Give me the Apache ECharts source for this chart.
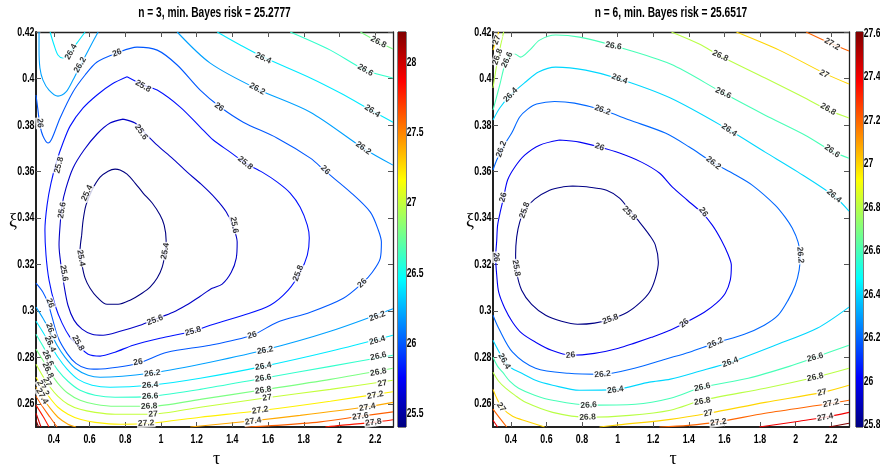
<!DOCTYPE html>
<html>
<head>
<meta charset="utf-8">
<script src="https://cdn.jsdelivr.net/npm/echarts@6.0.0/dist/echarts.min.js"></script>
<style>
  html, body { margin: 0; background: #fff; }
  #chart { width: 880px; height: 472px; }
</style>
</head>
<body>
<div id="chart"></div>
<script>
// axis ticks
const tauTicks = [0.4, 0.6, 0.8, 1, 1.2, 1.4, 1.6, 1.8, 2, 2.2];
const xiTicks = [0.26, 0.28, 0.3, 0.32, 0.34, 0.36, 0.38, 0.4, 0.42];
const leftBarTicks = [25.5, 26, 26.5, 27, 27.5, 28];
const rightBarTicks = [25.8, 26, 26.2, 26.4, 26.6, 26.8, 27, 27.2, 27.4, 27.6];
const leftRange = [25.405, 28.216];
const rightRange = [25.79, 27.606];
const titles = ['n = 3, min. Bayes risk = 25.2777', 'n = 6, min. Bayes risk = 25.6517'];

// ---- n = 3 contours, [tau, xi] ----
const left254 = [[0.556,0.3326],[0.547,0.3261],[0.558,0.3197],[0.575,0.3141],[0.603,0.3097],[0.642,0.3059],[0.698,0.3028],[0.760,0.3028],[0.827,0.3046],[0.894,0.3076],[0.939,0.3102],[0.979,0.3141],[1.007,0.3188],[1.024,0.3253],[1.029,0.3304],[1.018,0.3369],[0.995,0.3412],[0.951,0.3464],[0.900,0.3507],[0.855,0.3550],[0.810,0.3588],[0.771,0.3606],[0.743,0.3610],[0.704,0.3601],[0.659,0.3575],[0.614,0.3520],[0.580,0.3455],[0.564,0.3390],[0.556,0.3326]];
const left256 = [[0.788,0.3825],[0.855,0.3808],[0.911,0.3765],[0.979,0.3713],[1.063,0.3657],[1.147,0.3597],[1.225,0.3545],[1.304,0.3485],[1.366,0.3425],[1.405,0.3360],[1.427,0.3296],[1.422,0.3227],[1.394,0.3166],[1.343,0.3115],[1.287,0.3097],[1.220,0.3063],[1.141,0.3024],[1.068,0.2994],[0.967,0.2964],[0.883,0.2938],[0.771,0.2912],[0.676,0.2895],[0.614,0.2899],[0.558,0.2921],[0.513,0.2960],[0.479,0.3024],[0.457,0.3110],[0.440,0.3196],[0.429,0.3283],[0.435,0.3369],[0.446,0.3455],[0.468,0.3528],[0.507,0.3614],[0.569,0.3692],[0.642,0.3761],[0.715,0.3808],[0.788,0.3825]];
const left258 = [[0.810,0.4007],[0.900,0.3972],[0.979,0.3950],[1.108,0.3877],[1.220,0.3791],[1.293,0.3735],[1.388,0.3683],[1.472,0.3636],[1.567,0.3597],[1.652,0.3554],[1.724,0.3507],[1.780,0.3446],[1.820,0.3369],[1.831,0.3313],[1.820,0.3240],[1.780,0.3166],[1.713,0.3089],[1.612,0.3024],[1.461,0.2981],[1.276,0.2938],[1.180,0.2912],[0.995,0.2882],[0.844,0.2852],[0.743,0.2822],[0.659,0.2805],[0.592,0.2813],[0.536,0.2852],[0.491,0.2886],[0.446,0.2947],[0.407,0.3024],[0.373,0.3132],[0.356,0.3240],[0.350,0.3347],[0.362,0.3455],[0.384,0.3550],[0.418,0.3649],[0.451,0.3722],[0.491,0.3795],[0.564,0.3873],[0.642,0.3929],[0.726,0.3976],[0.810,0.4007]];
const left260 = [[0.300,0.3929],[0.311,0.3864],[0.322,0.3799],[0.339,0.3752],[0.367,0.3722],[0.390,0.3743],[0.435,0.3830],[0.507,0.3942],[0.575,0.4015],[0.642,0.4071],[0.754,0.4110],[0.866,0.4135],[0.979,0.4122],[1.091,0.4058],[1.220,0.3950],[1.332,0.3877],[1.461,0.3812],[1.652,0.3743],[1.837,0.3657],[1.921,0.3601],[2.061,0.3511],[2.173,0.3425],[2.218,0.3347],[2.235,0.3296],[2.229,0.3227],[2.184,0.3166],[2.128,0.3119],[2.022,0.3054],[1.837,0.2994],[1.652,0.2951],[1.511,0.2895],[1.276,0.2852],[1.035,0.2822],[0.872,0.2774],[0.754,0.2757],[0.642,0.2749],[0.580,0.2753],[0.524,0.2774],[0.474,0.2817],[0.423,0.2886],[0.390,0.2973],[0.367,0.3033],[0.339,0.3080],[0.300,0.3119]];
const left262a = [[0.317,0.42],[0.317,0.4122],[0.322,0.4045],[0.339,0.3993],[0.373,0.3950],[0.423,0.3924],[0.468,0.3942],[0.507,0.3993],[0.547,0.4054],[0.597,0.4127],[0.648,0.42]];
const left262b = [[1.091,0.42],[1.276,0.4066],[1.539,0.3955],[1.837,0.3855],[2.134,0.3700],[2.3,0.3627]];
const left262c = [[0.300,0.3016],[0.339,0.2968],[0.379,0.2912],[0.418,0.2852],[0.463,0.2800],[0.519,0.2753],[0.592,0.2723],[0.659,0.2714],[0.939,0.2731],[1.220,0.2770],[1.573,0.2830],[1.949,0.2912],[2.3,0.3009]];
const left264a = [[0.379,0.42],[0.401,0.4144],[0.423,0.4101],[0.451,0.4088],[0.491,0.4114],[0.530,0.4153],[0.575,0.42]];
const left264b = [[1.315,0.42],[1.444,0.4144],[1.573,0.4092],[1.837,0.4002],[2.005,0.3937],[2.184,0.3860],[2.3,0.3812]];
const left264c = [[0.300,0.2955],[0.339,0.2908],[0.379,0.2856],[0.423,0.2800],[0.474,0.2749],[0.536,0.2705],[0.614,0.2680],[0.715,0.2671],[0.939,0.2680],[1.220,0.2710],[1.573,0.2761],[1.949,0.2826],[2.3,0.2895]];
const left266a = [[1.724,0.42],[1.949,0.4122],[2.145,0.4036],[2.3,0.4002]];
const left266b = [[0.300,0.2899],[0.339,0.2848],[0.379,0.2796],[0.423,0.2744],[0.479,0.2697],[0.547,0.2658],[0.631,0.2637],[0.743,0.2628],[0.939,0.2632],[1.220,0.2662],[1.573,0.2710],[1.949,0.2761],[2.3,0.2809]];
const left268a = [[2.117,0.42],[2.218,0.4157],[2.3,0.4127]];
const left268b = [[0.300,0.2835],[0.339,0.2787],[0.379,0.2736],[0.423,0.2688],[0.479,0.2645],[0.547,0.2615],[0.631,0.2598],[0.743,0.2589],[0.939,0.2589],[1.220,0.2619],[1.573,0.2660],[1.949,0.2705],[2.3,0.2753]];
const left270 = [[0.300,0.2770],[0.339,0.2718],[0.379,0.2671],[0.423,0.2632],[0.479,0.2598],[0.547,0.2576],[0.631,0.2563],[0.743,0.2555],[0.939,0.2555],[1.220,0.2585],[1.573,0.2624],[1.949,0.2662],[2.3,0.2701]];
const left272 = [[0.300,0.2714],[0.339,0.2667],[0.379,0.2624],[0.423,0.2585],[0.479,0.2555],[0.547,0.2533],[0.631,0.2520],[0.771,0.2512],[0.939,0.2516],[1.220,0.2542],[1.573,0.2572],[1.949,0.2611],[2.3,0.2652]];
const left274a = [[0.300,0.2671],[0.339,0.2624],[0.379,0.2581],[0.423,0.2542],[0.479,0.2512],[0.524,0.25]];
const left274b = [[1.164,0.25],[1.517,0.2527],[1.780,0.2550],[2.156,0.2587],[2.3,0.2606]];
const left276a = [[0.300,0.2632],[0.339,0.2585],[0.379,0.2542],[0.418,0.25]];
const left276b = [[1.472,0.25],[1.652,0.2507],[1.893,0.2522],[2.117,0.2546],[2.3,0.2565]];
const left278a = [[0.300,0.2594],[0.339,0.2546],[0.373,0.25]];
const left278b = [[1.921,0.25],[2.005,0.2507],[2.190,0.2520],[2.3,0.2531]];
const left280 = [[0.300,0.2559],[0.328,0.25]];
const left282 = [[0.300,0.2529],[0.314,0.25]];

const leftLines = [
  [25.4, left254], [25.6, left256], [25.8, left258], [26, left260],
  [26.2, left262a], [26.2, left262b], [26.2, left262c],
  [26.4, left264a], [26.4, left264b], [26.4, left264c],
  [26.6, left266a], [26.6, left266b], [26.8, left268a], [26.8, left268b],
  [27, left270], [27.2, left272], [27.4, left274a], [27.4, left274b],
  [27.6, left276a], [27.6, left276b], [27.8, left278a], [27.8, left278b],
  [28, left280], [28.2, left282]
];

// [tau, xi, text, angle]
const leftLabels = [
  [0.496,0.4114,'26.4',60],[0.547,0.4058,'26.2',60],[0.754,0.4110,'26',20],[0.322,0.3808,'26',-85],
  [0.900,0.3967,'25.8',-30],[0.889,0.3769,'25.6',-55],[0.429,0.3627,'25.8',75],[0.446,0.3433,'25.6',80],
  [0.586,0.3507,'25.4',65],[1.573,0.4088,'26.4',-25],[1.539,0.3955,'26.2',-28],[1.326,0.3877,'26',-35],
  [1.472,0.3636,'25.8',-40],[1.921,0.3606,'26',-45],[2.134,0.3700,'26.2',-35],[2.184,0.3860,'26.4',-33],
  [2.145,0.4036,'26.6',-30],[2.218,0.4157,'26.8',-28],[0.552,0.3227,'25.4',-80],[1.024,0.3257,'25.4',80],
  [0.457,0.3162,'25.6',-80],[0.967,0.2960,'25.6',20],[1.410,0.3369,'25.6',-80],[1.769,0.3162,'25.8',70],
  [1.180,0.2912,'25.8',15],[0.536,0.2861,'25.8',-60],[0.379,0.3033,'26',-70],[0.872,0.2779,'26',10],
  [1.511,0.2895,'26',15],[2.128,0.3119,'26',45],[0.384,0.2912,'26.2',-70],[0.951,0.2731,'26.2',5],
  [1.584,0.2830,'26.2',10],[2.212,0.2977,'26.2',20],[0.379,0.2857,'26.4',-65],[0.939,0.2680,'26.4',3],
  [1.573,0.2761,'26.4',10],[2.212,0.2873,'26.4',15],[0.367,0.2796,'26.6',-65],[0.939,0.2632,'26.6',3],
  [1.573,0.2710,'26.6',8],[2.218,0.2805,'26.6',12],[0.367,0.2744,'26.8',-65],[0.934,0.2589,'26.8',3],
  [1.573,0.2658,'26.8',8],[2.218,0.2736,'26.8',10],[0.362,0.2693,'27',-60],[0.956,0.2555,'27',3],
  [1.595,0.2626,'27',8],[2.240,0.2688,'27',10],[0.339,0.2667,'27.2',-60],[0.917,0.2516,'27.2',3],
  [1.556,0.2572,'27.2',8],[2.201,0.2637,'27.2',10],[0.334,0.2632,'27.4',-60],[1.517,0.2525,'27.4',8],
  [2.156,0.2585,'27.4',10],[2.117,0.2546,'27.6',8],[2.190,0.2520,'27.8',8]
];

// ---- n = 6 contours ----
const right258 = [[0.747,0.3537],[0.842,0.3532],[0.938,0.3519],[1.011,0.3485],[1.067,0.3433],[1.123,0.3382],[1.179,0.3326],[1.212,0.3283],[1.229,0.3209],[1.212,0.3140],[1.179,0.3080],[1.123,0.3033],[1.055,0.2994],[0.960,0.2964],[0.870,0.2947],[0.775,0.2942],[0.685,0.2955],[0.596,0.2981],[0.517,0.3028],[0.461,0.3089],[0.433,0.3166],[0.427,0.3240],[0.433,0.3317],[0.450,0.3382],[0.478,0.3433],[0.534,0.3481],[0.618,0.3519],[0.685,0.3532],[0.747,0.3537]];
const right260 = [[0.674,0.3735],[0.786,0.3726],[0.898,0.3705],[1.011,0.3679],[1.134,0.3640],[1.235,0.3593],[1.308,0.3532],[1.392,0.3476],[1.476,0.3420],[1.532,0.3369],[1.583,0.3304],[1.622,0.3240],[1.639,0.3196],[1.633,0.3132],[1.605,0.3076],[1.555,0.3033],[1.487,0.2994],[1.375,0.2947],[1.280,0.2912],[1.190,0.2886],[1.095,0.2861],[1.005,0.2839],[0.870,0.2817],[0.736,0.2809],[0.629,0.2830],[0.539,0.2865],[0.461,0.2904],[0.410,0.2951],[0.366,0.3011],[0.332,0.3080],[0.321,0.3153],[0.315,0.3231],[0.321,0.3304],[0.326,0.3369],[0.343,0.3433],[0.360,0.3489],[0.382,0.3563],[0.422,0.3618],[0.478,0.3670],[0.562,0.3713],[0.674,0.3735]];
const right262 = [[0.300,0.3606],[0.321,0.3649],[0.349,0.3692],[0.377,0.3731],[0.405,0.3765],[0.450,0.3834],[0.495,0.3868],[0.545,0.3890],[0.646,0.3901],[0.758,0.3894],[0.915,0.3864],[1.067,0.3821],[1.268,0.3765],[1.403,0.3705],[1.532,0.3640],[1.655,0.3588],[1.756,0.3541],[1.885,0.3455],[1.941,0.3403],[1.981,0.3356],[2.014,0.3296],[2.026,0.3240],[2.020,0.3175],[1.998,0.3110],[1.958,0.3046],[1.902,0.2981],[1.824,0.2938],[1.712,0.2899],[1.549,0.2861],[1.403,0.2822],[1.268,0.2792],[1.095,0.2753],[0.915,0.2727],[0.725,0.2731],[0.539,0.2753],[0.410,0.2822],[0.332,0.2925],[0.300,0.2981]];
const right264a = [[0.300,0.3821],[0.338,0.3873],[0.399,0.3929],[0.483,0.3985],[0.556,0.4028],[0.652,0.4049],[0.820,0.4036],[1.011,0.3998],[1.297,0.3916],[1.627,0.3778],[1.829,0.3683],[2.014,0.3597],[2.216,0.3494],[2.3,0.3429]];
const right264b = [[0.300,0.2873],[0.332,0.2826],[0.366,0.2783],[0.405,0.2753],[0.450,0.2736],[0.539,0.2701],[0.635,0.2680],[0.786,0.2658],[0.988,0.2662],[1.179,0.2693],[1.297,0.2706],[1.459,0.2740],[1.633,0.2779],[1.885,0.2852],[2.121,0.2925],[2.3,0.3016]];
const right266a = [[0.300,0.3864],[0.338,0.3972],[0.366,0.4058],[0.394,0.4101],[0.422,0.4105],[0.455,0.4092],[0.506,0.4122],[0.562,0.4165],[0.652,0.4187],[0.786,0.4178],[0.983,0.4140],[1.297,0.4062],[1.594,0.3937],[1.829,0.3842],[2.054,0.3756],[2.205,0.3687],[2.3,0.3657]];
const right266b = [[0.300,0.2800],[0.326,0.2761],[0.354,0.2736],[0.394,0.2697],[0.444,0.2667],[0.534,0.2637],[0.635,0.2615],[0.837,0.2594],[1.100,0.2598],[1.297,0.2624],[1.476,0.2671],[1.734,0.2710],[1.964,0.2761],[2.110,0.2800],[2.3,0.2852]];
const right268a = [[1.302,0.42],[1.459,0.4148],[1.577,0.4097],[1.829,0.4002],[2.020,0.3929],[2.183,0.3864],[2.3,0.3830]];
const right268b = [[0.300,0.2736],[0.332,0.2697],[0.371,0.2667],[0.422,0.2637],[0.483,0.2606],[0.635,0.2563],[0.831,0.2542],[1.067,0.2550],[1.297,0.2572],[1.476,0.2615],[1.829,0.2667],[2.110,0.2714],[2.3,0.2753]];
const right268c = [[0.300,0.3959],[0.321,0.4058],[0.343,0.4144],[0.360,0.42]];
const right270a = [[1.667,0.42],[1.908,0.4122],[2.160,0.4023],[2.3,0.3976]];
const right270b = [[0.300,0.4122],[0.332,0.42]];
const right270c = [[0.300,0.2662],[0.321,0.2624],[0.349,0.2585],[0.410,0.2546],[0.489,0.2525],[0.590,0.25]];
const right270d = [[0.898,0.25],[1.005,0.2509],[1.297,0.2533],[1.510,0.2559],[1.829,0.2606],[2.149,0.2649],[2.3,0.2680]];
const right272a = [[2.059,0.42],[2.205,0.4148],[2.3,0.4118]];
const right272b = [[0.300,0.2577],[0.338,0.2538],[0.377,0.25]];
const right272c = [[1.235,0.25],[1.398,0.2507],[1.566,0.2522],[1.829,0.2559],[2.205,0.2602],[2.3,0.2615]];
const right274a = [[0.300,0.2529],[0.326,0.25]];
const right274b = [[1.796,0.25],[2.020,0.2525],[2.166,0.2542],[2.3,0.2563]];
const right276 = [[2.188,0.25],[2.3,0.2516]];

const rightLines = [
  [25.8, right258], [26, right260], [26.2, right262], [26.4, right264a], [26.4, right264b],
  [26.6, right266a], [26.6, right266b], [26.8, right268a], [26.8, right268b], [26.8, right268c],
  [27, right270a], [27, right270b], [27, right270c], [27, right270d],
  [27.2, right272a], [27.2, right272b], [27.2, right272c], [27.4, right274a], [27.4, right274b],
  [27.6, right276]
];

const rightLabels = [
  [0.321,0.4166,'27',70],[0.326,0.4093,'26.8',70],[0.380,0.4080,'26.6',65],[0.977,0.4140,'26.6',-10],
  [1.594,0.3937,'26.6',-25],[2.205,0.3687,'26.6',-35],[1.577,0.4097,'26.8',-25],[2.183,0.3868,'26.8',-30],
  [2.160,0.4019,'27',-30],[2.205,0.4148,'27.2',-30],[0.399,0.3929,'26.4',45],[1.011,0.3998,'26.4',-20],
  [1.627,0.3778,'26.4',-35],[2.216,0.3494,'26.4',-40],[0.347,0.3696,'26.2',70],[0.915,0.3864,'26.2',-20],
  [1.538,0.3636,'26.2',-38],[2.026,0.3240,'26.2',-85],[0.357,0.3489,'26',75],[0.898,0.3705,'26',-20],
  [1.482,0.3425,'26',-55],[0.318,0.3231,'26',-85],[0.736,0.2809,'26',5],[1.375,0.2947,'26',40],
  [0.478,0.3433,'25.8',70],[1.067,0.3420,'25.8',-45],[0.430,0.3184,'25.8',-80],[0.960,0.2964,'25.8',20],
  [0.915,0.2727,'26.2',5],[1.549,0.2861,'26.2',25],[0.363,0.2783,'26.4',-60],[0.988,0.2660,'26.4',8],
  [1.633,0.2779,'26.4',20],[0.837,0.2594,'26.6',3],[1.476,0.2671,'26.6',12],[2.110,0.2800,'26.6',15],
  [0.831,0.2542,'26.8',3],[1.476,0.2611,'26.8',10],[2.110,0.2714,'26.8',12],[0.346,0.2585,'27',-55],
  [1.510,0.2559,'27',12],[2.149,0.2649,'27',12],[1.566,0.2520,'27.2',8],[2.199,0.2602,'27.2',12],
  [2.166,0.2542,'27.4',10]
];

const sans = "'Liberation Sans', Arial, sans-serif";
const serif = "'Liberation Serif', 'DejaVu Serif', serif";

function jet(t) {
  t = Math.max(0, Math.min(1, t));
  const c = v => Math.round(255 * Math.max(0, Math.min(1, 1.5 - Math.abs(4 * t - v))));
  return 'rgb(' + c(3) + ',' + c(2) + ',' + c(1) + ')';
}

const fmt = v => String(Math.round(v * 100) / 100);

// narrow bold text (the figure uses a condensed face)
function narrowText(x, y, text, align, size, squeeze) {
  return { type: 'text', x: x, y: y, scaleX: squeeze, silent: true, z: 10,
    style: { text: text, align: align, verticalAlign: 'middle', fontSize: size,
      fontWeight: 'bold', fontFamily: sans, fill: '#000' } };
}

const panels = [
  { left: 36, width: 357, barLeft: 398, barWidth: 8, lines: leftLines, labels: leftLabels,
    range: leftRange, barTicks: leftBarTicks, title: titles[0] },
  { left: 493, width: 356, barLeft: 856, barWidth: 7, lines: rightLines, labels: rightLabels,
    range: rightRange, barTicks: rightBarTicks, title: titles[1] }
];

const grid = [], xAxis = [], yAxis = [], series = [];

panels.forEach((p, i) => {
  const g = i * 2, ax = i * 3;
  grid.push({ left: p.left, top: 32, width: p.width, height: 395, outerBoundsMode: 'none' });
  grid.push({ left: p.barLeft, top: 32, width: p.barWidth, height: 395, outerBoundsMode: 'none',
    show: true, borderColor: '#000', borderWidth: 1 });

  const tick = vals => ({ inside: true, length: 5, customValues: vals, lineStyle: { color: '#555' } });
  xAxis.push(
    { type: 'value', gridIndex: g, min: 0.3, max: 2.3, position: 'bottom',
      axisLine: { onZero: false, lineStyle: { color: '#222', width: 2 } },
      axisTick: tick(tauTicks), axisLabel: { show: false }, splitLine: { show: false } },
    { type: 'value', gridIndex: g, min: 0.3, max: 2.3, position: 'top',
      axisLine: { onZero: false, lineStyle: { color: '#222', width: 1.3 } },
      axisTick: tick(tauTicks), axisLabel: { show: false }, splitLine: { show: false } },
    { type: 'category', gridIndex: g + 1, data: ['c'], show: false }
  );
  yAxis.push(
    { type: 'value', gridIndex: g, min: 0.25, max: 0.42, position: 'left',
      axisLine: { onZero: false, lineStyle: { color: '#222', width: 2 } },
      axisTick: tick(xiTicks), axisLabel: { show: false }, splitLine: { show: false } },
    { type: 'value', gridIndex: g, min: 0.25, max: 0.42, position: 'right',
      axisLine: { onZero: false, lineStyle: { color: '#222', width: 1.3 } },
      axisTick: tick(xiTicks), axisLabel: { show: false }, splitLine: { show: false } },
    { type: 'value', gridIndex: g + 1, min: p.range[0], max: p.range[1], position: 'right',
      axisLine: { show: false },
      axisTick: { inside: true, length: 2, customValues: p.barTicks, lineStyle: { color: '#000' } },
      axisLabel: { show: false }, splitLine: { show: false } }
  );

  const stops = [];
  for (let k = 0; k <= 16; k++) stops.push({ offset: k / 16, color: jet(k / 16) });
  series.push({
    type: 'custom', xAxisIndex: ax + 2, yAxisIndex: ax + 2, silent: true,
    data: [[0, p.range[0], p.range[1]]],
    renderItem: (params, api) => {
      const lo = api.coord([0, api.value(1)]);
      const hi = api.coord([0, api.value(2)]);
      const w = api.size([1, 0])[0];
      return { type: 'rect', shape: { x: lo[0] - w / 2, y: hi[1], width: w, height: lo[1] - hi[1] },
        style: { fill: { type: 'linear', x: 0, y: 1, x2: 0, y2: 0, colorStops: stops } } };
    }
  });

  p.lines.forEach(([lev, pts]) => {
    series.push({
      type: 'line', xAxisIndex: ax, yAxisIndex: ax, data: pts, symbol: 'none',
      smooth: 0.3, silent: true, z: 2,
      lineStyle: { width: 1.1, color: jet((lev - p.range[0]) / (p.range[1] - p.range[0])) }
    });
  });

  series.push({
    type: 'scatter', xAxisIndex: ax, yAxisIndex: ax, symbolSize: 1, silent: true, z: 5,
    itemStyle: { color: 'rgba(0,0,0,0)' },
    data: p.labels.map(([x, y, t, r]) => ({ value: [x, y], name: t, label: { rotate: r } })),
    label: { show: true, position: 'inside', formatter: '{b}', fontSize: 8.5, fontWeight: 'bold',
      fontFamily: sans, color: '#000', backgroundColor: '#fff', padding: [0, 1], lineHeight: 9 }
  });
});

const chart = echarts.init(document.getElementById('chart'));
chart.setOption({
  backgroundColor: '#fff',
  animation: false,
  textStyle: { fontFamily: sans },
  grid, xAxis, yAxis, series
});

// tick labels, titles and axis symbols placed from the axes' own scales
const graphic = [];
panels.forEach((p, i) => {
  const ax = i * 3;
  const yBottom = chart.convertToPixel({ yAxisIndex: ax }, 0.25);
  tauTicks.forEach(v => graphic.push(
    narrowText(chart.convertToPixel({ xAxisIndex: ax }, v), yBottom + 12.8, fmt(v), 'center', 13, 0.68)));
  xiTicks.forEach(v => graphic.push(
    narrowText(p.left - 1.5, chart.convertToPixel({ yAxisIndex: ax }, v), fmt(v), 'right', 13, 0.68)));
  p.barTicks.forEach(v => graphic.push(
    narrowText(p.barLeft + p.barWidth + 0.8, chart.convertToPixel({ yAxisIndex: ax + 2 }, v), fmt(v), 'left', 13, 0.66)));

  const cx = p.left + p.width / 2;
  graphic.push(
    narrowText(cx, 13, p.title, 'center', 15, 0.68),
    { type: 'text', x: cx + 2, y: 459, silent: true, style: { text: 'τ', align: 'center',
      verticalAlign: 'middle', fontSize: 18, fontFamily: serif, fill: '#000' } },
    { type: 'text', x: p.left - 23, y: 221, silent: true, style: { text: 'ξ', align: 'center',
      verticalAlign: 'middle', fontSize: 18, fontFamily: serif, fill: '#000' } }
  );
});
chart.setOption({ graphic: graphic });
</script>
</body>
</html>
